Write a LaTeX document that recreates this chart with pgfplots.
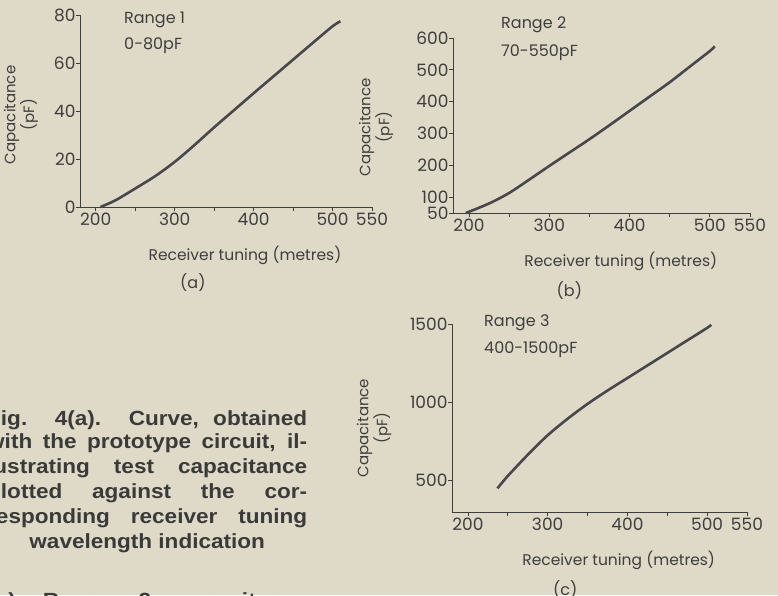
\documentclass[border=0pt]{standalone}
\usepackage{pgfplots}
\pgfplotsset{compat=1.18}
\usepackage{fontspec}
\setmainfont{Poppins}
\newfontfamily\capfont{Liberation Sans}[FakeStretch=1.1]
\definecolor{paper}{RGB}{223,218,199}
\definecolor{ink}{RGB}{62,62,62}
\definecolor{curvecol}{RGB}{72,72,76}
\pgfplotsset{
 myaxis/.style={
  scale only axis,
  anchor=south west,
  axis x line*=bottom, axis y line*=left,
  axis line style={ink, line width=0.9pt},
  tick style={ink, line width=0.9pt},
  major tick length=4pt,
  tick align=outside,
  xmin=180, xmax=550,
  xtick={200,250,...,550},
  xticklabels={200,,300,,400,,500,550},
  tick label style={font=\fontsize{17}{17}\selectfont, text=ink},
  /pgf/number format/assume math mode=true,
  xticklabel style={yshift=2pt},
  yticklabel style={xshift=3pt},
  xlabel={Receiver tuning (metres)},
  xlabel style={font=\fontsize{15.5}{15.5}\selectfont, text=ink, at={(axis description cs:0.565,0)}, anchor=center, yshift=-48pt},
  ylabel={Capacitance\\(pF)},
  ylabel style={font=\fontsize{15}{13}\selectfont, text=ink, align=center, anchor=center},
  clip=false,
 }
}
\begin{document}
\begin{tikzpicture}
\path[use as bounding box] (0,0) rectangle (778pt,595pt);
\clip (0,0) rectangle (778pt,595pt);
\fill[paper] (0,0) rectangle (778pt,595pt);

% (a)
\begin{axis}[myaxis, at={(80pt,388pt)}, width=292pt, height=192pt,
  ymin=0, ymax=80, ytick={0,20,40,60,80}, yticklabels={0,20,40,60,80},
  ylabel style={at={(axis description cs:-0.202,0.48)}}]
\addplot[curvecol, line width=2.6pt, smooth, no marks] coordinates {(206,0) (225,2.8) (250,7.7) (275,12.8) (300,18.8) (325,25.8) (350,33.2) (375,40.3) (400,47.4) (425,54.4) (450,61.4) (475,68.4) (500,75.3) (510,77.4)};
\node[font=\fontsize{16}{16}\selectfont, text=ink] at (axis cs:323,0) [yshift=-76pt] {(a)};
\end{axis}

% (b)
\begin{axis}[myaxis, at={(453pt,382pt)}, width=297pt, height=175pt,
  ymin=50, ymax=600, ytick={50,100,200,300,400,500,600}, yticklabels={50,100,200,300,400,500,600},
  ylabel style={at={(axis description cs:-0.259,0.49)}}]
\addplot[curvecol, line width=2.6pt, smooth, no marks] coordinates {(196,50) (225,80) (250,113) (275,155) (300,198) (325,240) (350,282) (375,326) (400,371) (425,416) (450,461) (475,510) (500,559) (506,574)};
\node[font=\fontsize{16}{16}\selectfont, text=ink] at (axis cs:325,50) [yshift=-78pt] {(b)};
\end{axis}

% (c)
\begin{axis}[myaxis, at={(452pt,83pt)}, width=295pt, height=188pt,
  ymin=300, ymax=1500, ytick={500,1000,1500}, yticklabels={500,1000,1500},
  ylabel style={at={(axis description cs:-0.264,0.447)}}]
\addplot[curvecol, line width=2.6pt, smooth, no marks] coordinates {(237,451) (250,530) (275,665) (300,790) (325,895) (350,990) (375,1075) (400,1155) (425,1235) (450,1315) (475,1395) (500,1475) (505,1495)};
\node[font=\fontsize{16}{16}\selectfont, text=ink] at (axis cs:322,300) [yshift=-78pt] {(c)};
\end{axis}

% range annotations
\begin{scope}[every node/.style={font=\fontsize{16}{16}\selectfont, text=ink, anchor=west, inner sep=0pt}]
\node at (124pt,575pt) {Range 1};
\node at (124pt,549pt) {0-80pF};
\node at (501pt,570pt) {Range 2};
\node at (501pt,542pt) {70-550pF};
\node at (484pt,272pt) {Range 3};
\node at (484pt,245pt) {400-1500pF};
\end{scope}

% caption text
\begin{scope}[every node/.style={font=\capfont\bfseries\fontsize{20.5}{20.5}\selectfont, text={rgb,255:red,58;green,58;blue,58}, anchor=base west, inner sep=0pt}]
\node at (-13pt,170pt) {\makebox[320pt][s]{Fig. 4(a). Curve, obtained}};
\node at (-13pt,147pt) {\makebox[320pt][s]{with the prototype circuit, il-}};
\node at (-13pt,122pt) {\makebox[320pt][s]{lustrating test capacitance}};
\node at (-13pt,97pt) {\makebox[320pt][s]{plotted against the cor-}};
\node at (-13pt,72pt) {\makebox[320pt][s]{responding receiver tuning}};
\node at (-13pt,47pt) {\makebox[320pt][c]{wavelength indication}};
\node at (-13pt,-12pt) {\makebox[320pt][s]{(b) Range 2 capacitance}};
\end{scope}
\end{tikzpicture}
\end{document}
